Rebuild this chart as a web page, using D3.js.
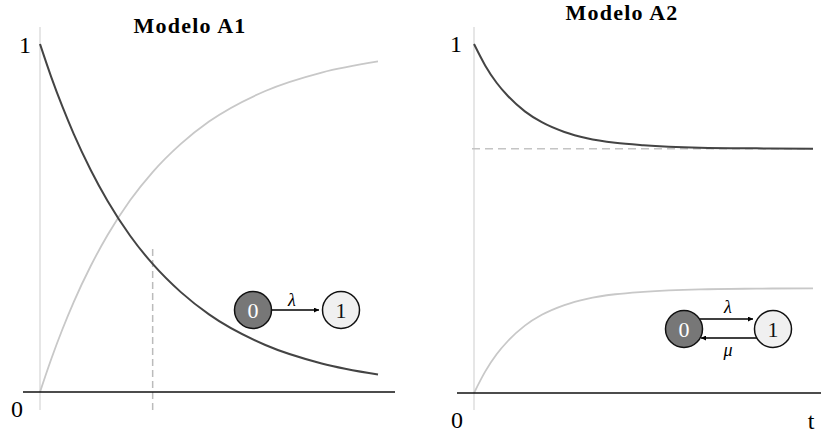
<!DOCTYPE html>
<html>
<head>
<meta charset="utf-8">
<script src="https://cdn.jsdelivr.net/npm/d3@7"></script>
<style>
  body { margin: 0; background: #fff; }
  text { font-family: "Liberation Serif", "Times New Roman", serif; }
</style>
</head>
<body>
<div id="chart"></div>
<script>
// sample times and curve values
var tSamples = [0, 0.1, 0.2, 0.3, 0.45, 0.6, 0.8, 1, 1.25, 1.5, 2, 2.5, 3];
var a1State0 = [1, 0.905, 0.819, 0.741, 0.638, 0.549, 0.449, 0.368, 0.287, 0.223, 0.135, 0.082, 0.050];
var a1State1 = [0, 0.095, 0.181, 0.259, 0.362, 0.451, 0.551, 0.632, 0.713, 0.777, 0.865, 0.918, 0.950];
var a2State0 = [1, 0.938, 0.889, 0.851, 0.807, 0.776, 0.748, 0.730, 0.717, 0.710, 0.703, 0.701, 0.700];
var a2State1 = [0, 0.062, 0.111, 0.149, 0.193, 0.224, 0.252, 0.270, 0.283, 0.290, 0.297, 0.299, 0.300];
var a1MeanTime = 1;
var a2Steady = 0.7;
var titles = ["Modelo A1", "Modelo A2"];
var yTickLabels = ["0", "1"];

var svg = d3.select("#chart")
  .append("svg")
    .attr("width", 822)
    .attr("height", 434);

var defs = svg.append("defs");
defs.append("marker")
    .attr("id", "arrow")
    .attr("viewBox", "0 0 10 10")
    .attr("refX", 10)
    .attr("refY", 5)
    .attr("markerWidth", 6)
    .attr("markerHeight", 5)
    .attr("markerUnits", "userSpaceOnUse")
    .attr("orient", "auto")
  .append("path")
    .attr("d", "M0,0L10,5L0,10z")
    .attr("fill", "#000");

var panels = [
  {title: titles[0], s0: a1State0, s1: a1State1, xr: [40, 378], yr: [392, 44],
   axisX: [23, 395], titleX: 190, titleY: 33, one: [25, 53], zero: [17, 417]},
  {title: titles[1], s0: a2State0, s1: a2State1, xr: [474, 813], yr: [393, 44],
   axisX: [457, 821], titleX: 622, titleY: 20, one: [456, 52], zero: [457, 428]}
];

panels.forEach(function(p, i) {
  var x = d3.scaleLinear().domain([0, 3]).range(p.xr);
  var y = d3.scaleLinear().domain([0, 1]).range(p.yr);
  var g = svg.append("g");

  // light vertical axis
  g.append("line")
    .attr("x1", x(0)).attr("x2", x(0))
    .attr("y1", 27).attr("y2", 410)
    .attr("stroke", "#e6e6e6")
    .attr("stroke-width", 2);

  if (i == 0) {
    g.append("line")
      .attr("x1", x(a1MeanTime)).attr("x2", x(a1MeanTime))
      .attr("y1", 249).attr("y2", 410)
      .attr("stroke", "#bbb")
      .attr("stroke-width", 1.5)
      .attr("stroke-dasharray", "7,4");
  } else {
    g.append("line")
      .attr("x1", x(0) - 2).attr("x2", x(3))
      .attr("y1", y(a2Steady)).attr("y2", y(a2Steady))
      .attr("stroke", "#c4c4c4")
      .attr("stroke-width", 1.5)
      .attr("stroke-dasharray", "8,5");
  }

  var line = d3.line()
    .x(function(d, j) { return x(tSamples[j]) })
    .y(function(d) { return y(d) })
    .curve(d3.curveMonotoneX);

  g.append("path")
    .datum(p.s1)
    .attr("fill", "none")
    .attr("stroke", "#c8c8c8")
    .attr("stroke-width", 1.8)
    .attr("d", line);

  g.append("path")
    .datum(p.s0)
    .attr("fill", "none")
    .attr("stroke", "#444")
    .attr("stroke-width", 2)
    .attr("d", line);

  // horizontal axis
  g.append("line")
    .attr("x1", p.axisX[0]).attr("x2", p.axisX[1])
    .attr("y1", y(0)).attr("y2", y(0))
    .attr("stroke", "#111")
    .attr("stroke-width", 1.6);

  g.append("text")
    .attr("x", p.titleX).attr("y", p.titleY)
    .attr("text-anchor", "middle")
    .attr("font-size", 22)
    .attr("font-weight", "bold")
    .attr("letter-spacing", 1.2)
    .text(p.title);

  g.append("text")
    .attr("x", p.one[0]).attr("y", p.one[1])
    .attr("text-anchor", "middle")
    .attr("font-size", 24)
    .text(yTickLabels[1]);
  g.append("text")
    .attr("x", p.zero[0]).attr("y", p.zero[1])
    .attr("text-anchor", "middle")
    .attr("font-size", 24)
    .text(yTickLabels[0]);

  if (i == 1) {
    g.append("text")
      .attr("x", 811).attr("y", 429)
      .attr("text-anchor", "middle")
      .attr("font-size", 24)
      .text("t");
  }
});

// state diagrams
function node(cx, cy, label, dark) {
  svg.append("circle")
    .attr("cx", cx).attr("cy", cy).attr("r", 18.5)
    .attr("fill", dark ? "#777" : "#f0f0f0")
    .attr("stroke", "#111")
    .attr("stroke-width", 1.5);
  svg.append("text")
    .attr("x", cx).attr("y", cy + 7.5)
    .attr("text-anchor", "middle")
    .attr("font-size", 22)
    .attr("fill", dark ? "#fff" : "#111")
    .text(label);
}

function arrow(x1, x2, yy) {
  svg.append("line")
    .attr("x1", x1).attr("x2", x2)
    .attr("y1", yy).attr("y2", yy)
    .attr("stroke", "#000")
    .attr("stroke-width", 1.5)
    .attr("marker-end", "url(#arrow)");
}

function rateLabel(xx, yy, s) {
  svg.append("text")
    .attr("x", xx).attr("y", yy)
    .attr("text-anchor", "middle")
    .attr("font-size", 18)
    .attr("font-style", "italic")
    .text(s);
}

// A1: 0 -> 1
arrow(272, 319, 310);
node(253, 310, "0", true);
node(341, 310, "1", false);
rateLabel(292, 306, "λ");

// A2: 0 <-> 1
arrow(700, 753, 319);
arrow(757, 701, 338);
node(684, 329, "0", true);
node(773, 329, "1", false);
rateLabel(728, 313, "λ");
rateLabel(728, 356, "μ");
</script>
</body>
</html>
